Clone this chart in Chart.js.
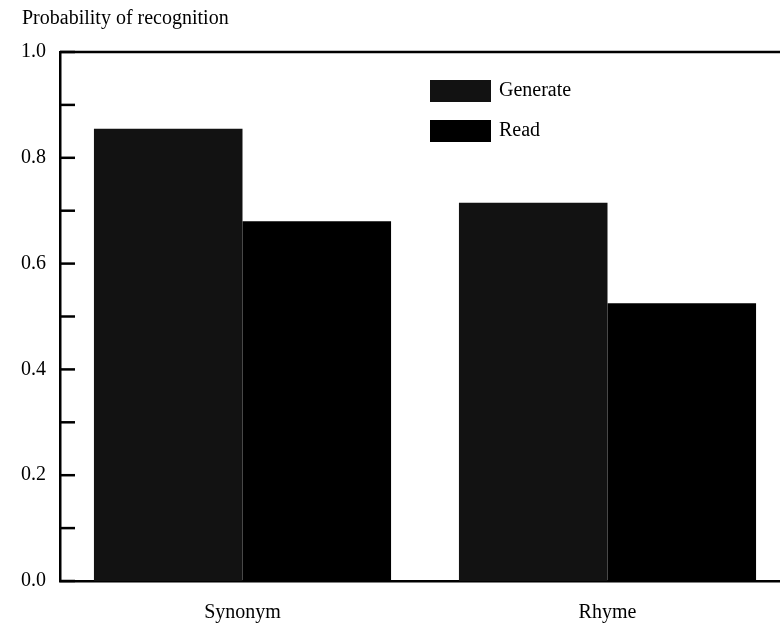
<!DOCTYPE html>
<html lang="en">
<head>
    <meta charset="UTF-8">
    <title>Probability of recognition</title>
    <script src="https://cdn.jsdelivr.net/npm/chart.js"></script>
    <style>
        html, body {
            margin: 0;
            padding: 0;
            background: #fff;
            overflow: hidden;
        }
        #wrap {
            width: 800px;
            height: 625px;
        }
    </style>
</head>
<body>
    <div id="wrap"><canvas id="myChart" width="800" height="625"></canvas></div>

    <script>
        // datos
        const categories = ['Synonym', 'Rhyme'];
        const generateValues = [0.855, 0.715];
        const readValues = [0.68, 0.525];
        const yLabels = ['0.0', '0.2', '0.4', '0.6', '0.8', '1.0'];

        const serif = '"Liberation Serif", "DejaVu Serif", serif';

        // ejes en forma de marco, marcas hacia dentro, titulo y leyenda
        const framePlugin = {
            id: 'frame',
            afterDraw(chart) {
                const ctx = chart.ctx;
                const area = chart.chartArea;
                const y = chart.scales.y;
                ctx.save();
                ctx.strokeStyle = '#000';
                ctx.lineWidth = 2.5;
                ctx.beginPath();
                ctx.moveTo(area.left, area.top);
                ctx.lineTo(chart.width, area.top);
                ctx.stroke();
                y.ticks.forEach(t => {
                    const py = y.getPixelForValue(t.value);
                    ctx.beginPath();
                    ctx.moveTo(area.left, py);
                    ctx.lineTo(area.left + 15, py);
                    ctx.stroke();
                });

                ctx.fillStyle = '#000';
                ctx.font = '20px ' + serif;
                ctx.textBaseline = 'middle';
                ctx.textAlign = 'left';
                ctx.fillText('Probability of recognition', 22, 19);

                // leyenda
                const items = chart.data.datasets;
                items.forEach((ds, i) => {
                    const top = 80 + i * 40;
                    ctx.fillStyle = ds.backgroundColor;
                    ctx.fillRect(430, top, 61, 22);
                    ctx.fillStyle = '#000';
                    ctx.fillText(ds.label, 499, top + 11);
                });
                ctx.restore();
            }
        };

        const ctx = document.getElementById('myChart').getContext('2d');
        new Chart(ctx, {
            type: 'bar',
            data: {
                labels: categories,
                datasets: [{
                    label: 'Generate',
                    data: generateValues,
                    backgroundColor: '#121212',
                    categoryPercentage: 0.814,
                    barPercentage: 1
                }, {
                    label: 'Read',
                    data: readValues,
                    backgroundColor: '#000000',
                    categoryPercentage: 0.814,
                    barPercentage: 1
                }]
            },
            options: {
                responsive: false,
                animation: false,
                layout: {
                    padding: { top: 52, right: 10, left: 0, bottom: 0 }
                },
                plugins: {
                    legend: { display: false },
                    tooltip: { enabled: false }
                },
                scales: {
                    x: {
                        grid: { display: false, drawTicks: false },
                        border: { display: true, color: '#000', width: 2.5 },
                        ticks: {
                            color: '#000',
                            padding: 20,
                            font: { family: serif, size: 20 }
                        },
                        afterFit(axis) { axis.height = 44; }
                    },
                    y: {
                        min: 0,
                        max: 1,
                        grid: { display: false, drawTicks: false },
                        border: { display: true, color: '#000', width: 2.5 },
                        ticks: {
                            stepSize: 0.1,
                            color: '#000',
                            padding: 14,
                            font: { family: serif, size: 20 },
                            callback: function (value) {
                                const k = Math.round(value * 10);
                                return k % 2 === 0 ? yLabels[k / 2] : '';
                            }
                        },
                        afterFit(axis) { axis.width = 60; }
                    }
                }
            },
            plugins: [framePlugin]
        });
    </script>
</body>
</html>
